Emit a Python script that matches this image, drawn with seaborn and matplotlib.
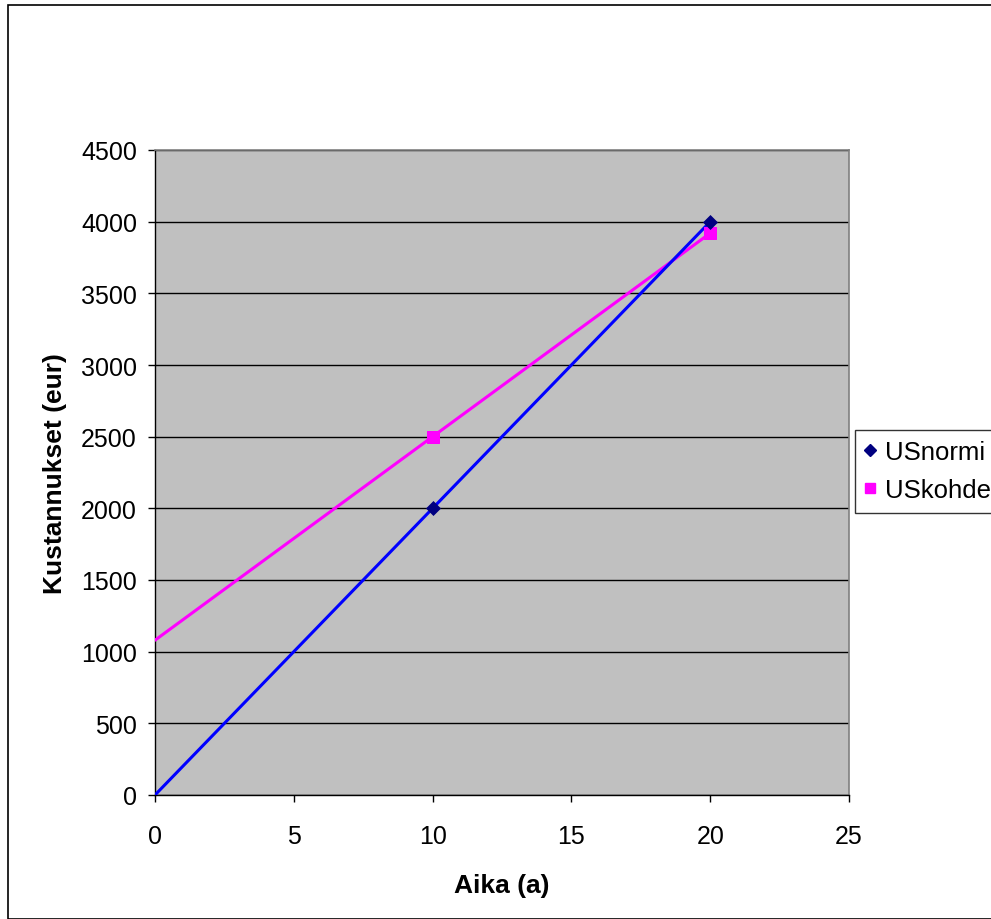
import matplotlib
matplotlib.use("Agg")
import matplotlib.pyplot as plt
import seaborn as sns
import pandas as pd
from matplotlib.lines import Line2D
from matplotlib.patches import Rectangle

# Data: years and cumulative costs
years = [0, 10, 20]
us_normi = [0, 2000, 4000]
us_kohde = [1080, 2500, 3920]
marked_years = [10, 20]
us_normi_marked = [2000, 4000]
us_kohde_marked = [2500, 3920]

x_ticks = [0, 5, 10, 15, 20, 25]
y_ticks = [0, 500, 1000, 1500, 2000, 2500, 3000, 3500, 4000, 4500]

sns.set_style("white")
plt.rcParams["font.family"] = ["Liberation Sans", "DejaVu Sans"]
plt.rcParams["text.color"] = "black"
plt.rcParams["axes.labelcolor"] = "black"
plt.rcParams["xtick.color"] = "black"
plt.rcParams["ytick.color"] = "black"

fig = plt.figure(figsize=(9.91, 9.2), dpi=100)
ax = fig.add_axes([155 / 991, 1 - 796 / 920, (849 - 155) / 991, (796 - 151) / 920])
ax.set_facecolor("#C0C0C0")

# Outer chart border
fig.patches.append(Rectangle((8 / 991, 0), 1.2, 1 - 6 / 920, transform=fig.transFigure,
                             fill=False, edgecolor="black", linewidth=1.2, zorder=0))

lines = pd.DataFrame({"Aika": years, "USnormi": us_normi, "USkohde": us_kohde})
sns.lineplot(data=lines, x="Aika", y="USkohde", color="#FF00FF", linewidth=2.2, ax=ax, zorder=3)
sns.lineplot(data=lines, x="Aika", y="USnormi", color="#0000FF", linewidth=2.2, ax=ax, zorder=4)

pts = pd.DataFrame({"Aika": marked_years, "USnormi": us_normi_marked, "USkohde": us_kohde_marked})
sns.scatterplot(data=pts, x="Aika", y="USkohde", marker="s", s=80, color="#FF00FF",
                edgecolor="#FF00FF", ax=ax, zorder=5)
sns.scatterplot(data=pts, x="Aika", y="USnormi", marker="D", s=50, color="#000080",
                edgecolor="#000080", ax=ax, zorder=6)

ax.set_xlim(0, 25)
ax.set_ylim(0, 4500)
ax.set_xticks(x_ticks)
ax.set_yticks(y_ticks)
ax.set_xticklabels([str(t) for t in x_ticks])
ax.set_yticklabels([str(t) for t in y_ticks])
ax.yaxis.grid(True, color="black", linewidth=1)
ax.xaxis.grid(False)
ax.set_axisbelow(True)

for side in ["left", "bottom"]:
    ax.spines[side].set_color("black")
    ax.spines[side].set_linewidth(1)
for side in ["top", "right"]:
    ax.spines[side].set_color("#808080")
    ax.spines[side].set_linewidth(1.2)

ax.tick_params(axis="both", direction="out", length=5, width=1, color="black",
               labelcolor="black", labelsize=18, left=True, bottom=True)
ax.tick_params(axis="y", pad=8)
ax.tick_params(axis="x", pad=16)

ax.set_xlabel("Aika (a)", fontsize=19, fontweight="bold", labelpad=18, color="black")
ax.set_ylabel("Kustannukset (eur)", fontsize=19, fontweight="bold", labelpad=10, color="black")

handles = [
    Line2D([], [], linestyle="none", marker="D", markersize=6.5, color="#000080"),
    Line2D([], [], linestyle="none", marker="s", markersize=7, color="#FF00FF"),
]
leg = fig.legend(handles, ["USnormi", "USkohde"], loc="upper left",
                 bbox_to_anchor=(855 / 991, 1 - 431 / 920), frameon=True,
                 fontsize=18.5, handletextpad=0.35, handlelength=0.4,
                 borderpad=0.4, labelspacing=0.55, fancybox=False, borderaxespad=0)
leg.get_frame().set_edgecolor("black")
leg.get_frame().set_linewidth(1)
leg.get_frame().set_facecolor("white")

fig.savefig("out.png", dpi=100)
